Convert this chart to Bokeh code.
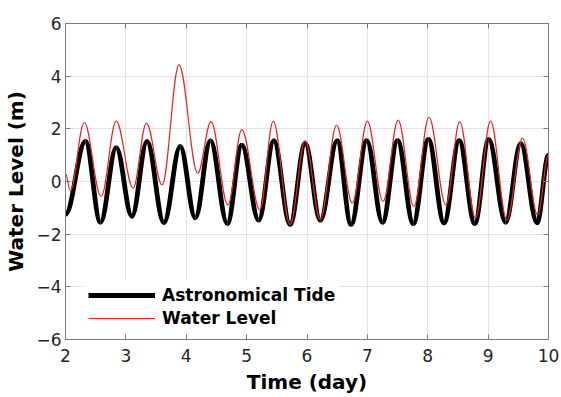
from bokeh.plotting import figure
from bokeh.models import (ColumnDataSource, Range1d, FixedTicker, LinearAxis,
                          Legend, LegendItem)
from bokeh.embed import file_html
from bokeh.resources import INLINE

# Extrema (high / low waters): time in days, level in m
tide_t = [2.00, 2.33, 2.58, 2.84, 3.10, 3.35, 3.63, 3.90, 4.15, 4.40, 4.68,
          4.92, 5.20, 5.45, 5.72, 5.97, 6.22, 6.50, 6.73, 6.99, 7.25, 7.50,
          7.76, 8.01, 8.27, 8.52, 8.78, 9.01, 9.29, 9.54, 9.81, 10.00]
tide_v = [-1.25, 1.52, -1.55, 1.29, -1.32, 1.52, -1.57, 1.33, -1.38, 1.55, -1.60,
          1.38, -1.47, 1.55, -1.63, 1.45, -1.48, 1.55, -1.63, 1.55, -1.55, 1.55,
          -1.60, 1.60, -1.57, 1.55, -1.60, 1.60, -1.55, 1.45, -1.57, 1.00]

wl_t = [2.00, 2.08, 2.31, 2.59, 2.84, 3.12, 3.34, 3.60, 3.88, 4.19, 4.41,
        4.69, 4.92, 5.22, 5.44, 5.72, 5.97, 6.22, 6.49, 6.75, 7.00, 7.26,
        7.51, 7.77, 8.02, 8.30, 8.53, 8.79, 9.04, 9.31, 9.57, 9.82, 10.00]
wl_v = [0.30, -0.35, 2.24, -0.57, 2.29, -0.25, 2.22, -0.13, 4.43, 0.32, 2.27,
        -0.89, 1.97, -1.08, 2.29, -1.63, 1.55, -1.45, 2.14, -0.82, 2.29, -0.76,
        2.33, -0.95, 2.45, -0.89, 2.27, -1.39, 2.29, -1.46, 1.65, -1.27, 1.00]

x_ticks = [2, 3, 4, 5, 6, 7, 8, 9, 10]
y_ticks = [-6, -4, -2, 0, 2, 4, 6]

K = 0.364  # bezier handle fraction: smooth half-wave between successive extrema


def segments(t, v):
    t0, t1 = t[:-1], t[1:]
    v0, v1 = v[:-1], v[1:]
    dt = [b - a for a, b in zip(t0, t1)]
    return ColumnDataSource(dict(
        x0=t0, y0=v0, x1=t1, y1=v1,
        cx0=[a + K * d for a, d in zip(t0, dt)], cy0=v0,
        cx1=[b - K * d for b, d in zip(t1, dt)], cy1=v1))


p = figure(width=561, height=397, output_backend="svg", toolbar_location=None,
           x_range=Range1d(2, 10), y_range=Range1d(-6, 6),
           min_border_left=65, min_border_right=13, min_border_top=23,
           min_border_bottom=58)
p.background_fill_color = "white"
p.border_fill_color = "white"
p.outline_line_color = "#7a7a7a"
p.outline_line_width = 1

xt = FixedTicker(ticks=x_ticks, minor_ticks=[])
yt = FixedTicker(ticks=y_ticks, minor_ticks=[])

for ax, tk in ((p.xaxis[0], xt), (p.yaxis[0], yt)):
    ax.ticker = tk
    ax.major_tick_in = 5
    ax.major_tick_out = 0
    ax.minor_tick_line_color = None
    ax.axis_line_color = "#7a7a7a"
    ax.major_tick_line_color = "#7a7a7a"
    ax.major_label_text_font = "DejaVu Sans"
    ax.major_label_text_font_size = "17px"
    ax.major_label_text_color = "#262626"
    ax.axis_label_text_font = "DejaVu Sans"
    ax.axis_label_text_font_style = "bold"
    ax.axis_label_text_font_size = "20px"
    ax.axis_label_text_color = "black"

p.xaxis[0].axis_label = "Time (day)"
p.xaxis[0].major_label_standoff = 9
p.xaxis[0].axis_label_standoff = 5
p.yaxis[0].axis_label = "Water Level (m)"
p.yaxis[0].major_label_standoff = 4
p.yaxis[0].axis_label_standoff = 5

for side, tk, ticks in (("above", xt, x_ticks), ("right", yt, y_ticks)):
    a = LinearAxis(ticker=tk, major_tick_in=5, major_tick_out=0,
                   axis_line_color="#7a7a7a", major_tick_line_color="#7a7a7a",
                   minor_tick_line_color=None,
                   major_label_overrides={t: "" for t in ticks},
                   major_label_standoff=0)
    p.add_layout(a, side)

p.xgrid.ticker = xt
p.ygrid.ticker = yt
p.grid.grid_line_color = "#e3e3e3"
p.grid.grid_line_width = 1

r_tide = p.bezier(x0="x0", y0="y0", x1="x1", y1="y1", cx0="cx0", cy0="cy0",
                  cx1="cx1", cy1="cy1", source=segments(tide_t, tide_v),
                  line_color="black", line_width=4.8)
r_wl = p.bezier(x0="x0", y0="y0", x1="x1", y1="y1", cx0="cx0", cy0="cy0",
                cx1="cx1", cy1="cy1", source=segments(wl_t, wl_v),
                line_color="#ee2222", line_width=1.2)

legend = Legend(items=[LegendItem(label="Astronomical Tide", renderers=[r_tide]),
                       LegendItem(label="Water Level", renderers=[r_wl])],
                location=(18, 6), margin=0, padding=5, spacing=3,
                glyph_width=67, glyph_height=20, label_height=20,
                label_standoff=7, border_line_alpha=0,
                background_fill_color="white", background_fill_alpha=1,
                label_text_font="DejaVu Sans", label_text_font_style="bold",
                label_text_font_size="17px", label_text_color="black")
p.add_layout(legend)

open("out.html", "w").write(file_html(p, INLINE))
